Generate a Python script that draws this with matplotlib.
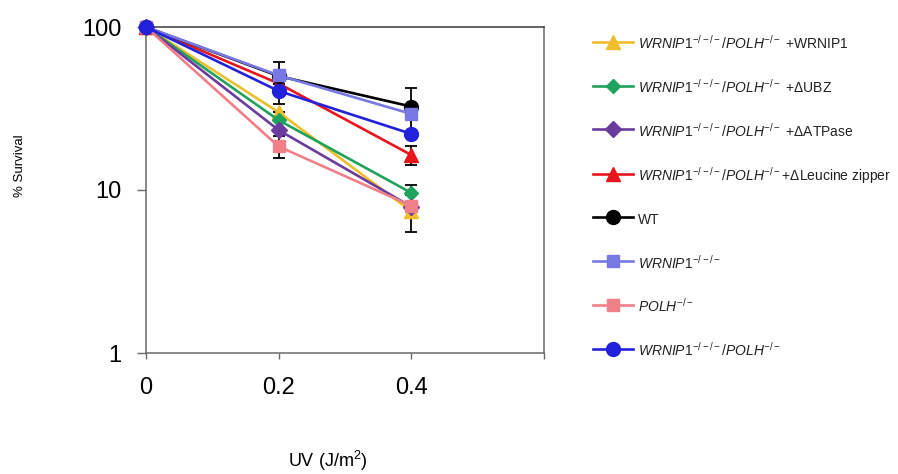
import matplotlib
matplotlib.use("Agg")
import matplotlib.pyplot as plt
from matplotlib.ticker import FixedLocator, NullLocator, FixedFormatter
import numpy as np

plt.rcParams['font.family'] = ['Liberation Sans', 'DejaVu Sans']
plt.rcParams['mathtext.fontset'] = 'custom'
plt.rcParams['mathtext.rm'] = 'Liberation Sans'
plt.rcParams['mathtext.it'] = 'Liberation Sans:italic'
plt.rcParams['mathtext.bf'] = 'Liberation Sans:bold'

# ---- data ----
uv_dose = [0.0, 0.2, 0.4]

labels = [
    r'$\mathit{WRNIP1}^{-/-/-}\mathit{/POLH}^{-/-}$ +WRNIP1',
    r'$\mathit{WRNIP1}^{-/-/-}\mathit{/POLH}^{-/-}$ +ΔUBZ',
    r'$\mathit{WRNIP1}^{-/-/-}\mathit{/POLH}^{-/-}$ +ΔATPase',
    r'$\mathit{WRNIP1}^{-/-/-}\mathit{/POLH}^{-/-}$+ΔLeucine zipper',
    'WT',
    r'$\mathit{WRNIP1}^{-/-/-}$',
    r'$\mathit{POLH}^{-/-}$',
    r'$\mathit{WRNIP1}^{-/-/-}\mathit{/POLH}^{-/-}$',
]

surv_wrnip1_rescue = [100, 30.0, 7.4]
surv_dubz = [100, 26.8, 9.6]
surv_datpase = [100, 23.3, 7.9]
surv_dleucine = [100, 45.0, 16.4]
surv_wt = [100, 50.0, 32.5]
surv_wrnip1 = [100, 50.5, 29.3]
surv_polh = [100, 18.5, 8.0]
surv_dko = [100, 40.5, 22.1]

err_wrnip1_rescue = [0, 0, 1.9]
err_dubz = [0, 0, 1.1]
err_datpase = [0, 0, 0]
err_dleucine = [0, 0, 2.2]
err_wt = [0, 11.0, 9.5]
err_wrnip1 = [0, 0, 0]
err_polh = [0, 2.8, 0]
err_dko = [0, 7.0, 0]

series = [surv_wrnip1_rescue, surv_dubz, surv_datpase, surv_dleucine,
          surv_wt, surv_wrnip1, surv_polh, surv_dko]
errors = [err_wrnip1_rescue, err_dubz, err_datpase, err_dleucine,
          err_wt, err_wrnip1, err_polh, err_dko]

colors = ['#F0BE2A', '#1FA35C', '#6A3C9E', '#E8141C',
          '#000000', '#7878E4', '#F07F88', '#2222DD']
markers = ['^', 'D', 'D', '^', 'o', 's', 's', 'o']
msizes = [10, 7, 8, 10, 10, 9, 8, 10]

x_ticks = [0, 0.2, 0.4, 0.6]
x_ticklabels = ['0', '0.2', '0.4', '']
y_ticks = [1, 10, 100]
y_ticklabels = ['1', '10', '100']

# ---- figure ----
fig = plt.figure(figsize=(8.98, 4.74), dpi=100)
ax = fig.add_axes([146/898, 1-353/474, (544-146)/898, (353-27)/474])

for i, (ys, es) in enumerate(zip(series, errors)):
    if any(e > 0 for e in es):
        ax.errorbar(uv_dose, ys, yerr=es, fmt='none', ecolor='black',
                    elinewidth=1.3, capsize=4, capthick=1.3, zorder=2 + i*0.1,
                    clip_on=False)
for i, ys in enumerate(series):
    ax.plot(uv_dose, ys, color=colors[i], marker=markers[i], markersize=msizes[i],
            linewidth=1.9, label=labels[i], zorder=3 + i*0.1, clip_on=False)

ax.set_yscale('log')
ax.set_ylim(1, 100)
ax.set_xlim(0, 0.6)
ax.yaxis.set_major_locator(FixedLocator(y_ticks))
ax.yaxis.set_major_formatter(FixedFormatter(y_ticklabels))
ax.yaxis.set_minor_locator(NullLocator())
ax.set_xticks(x_ticks)
ax.set_xticklabels(x_ticklabels)

for s in ax.spines.values():
    s.set_color('#6a6a6a')
    s.set_linewidth(1.1)
ax.spines['top'].set_color('#3a3a3a')

ax.tick_params(axis='y', direction='out', length=6.5, width=1.0, color='#6a6a6a',
               labelsize=17, pad=11)
ax.tick_params(axis='x', direction='out', length=4, width=1.0, color='#6a6a6a',
               labelsize=17, pad=13)

fig.text(20/898, 1-166/474, '% Survival', rotation=90, ha='center', va='center',
         fontsize=9.5)
fig.text(328/898, 1-461/474, 'UV (J/m$^{2}$)', ha='center', va='center', fontsize=13)

handles, lbls = ax.get_legend_handles_labels()
leg = fig.legend(handles, lbls, loc='upper left',
                 bbox_to_anchor=(593/898, 1-34/474), frameon=False,
                 fontsize=10, labelspacing=1.70, handlelength=2.9,
                 handleheight=1.8, handletextpad=0.35, borderpad=0,
                 borderaxespad=0)
for t in leg.get_texts():
    t.set_color('#222222')

fig.savefig('out.png', dpi=100)
